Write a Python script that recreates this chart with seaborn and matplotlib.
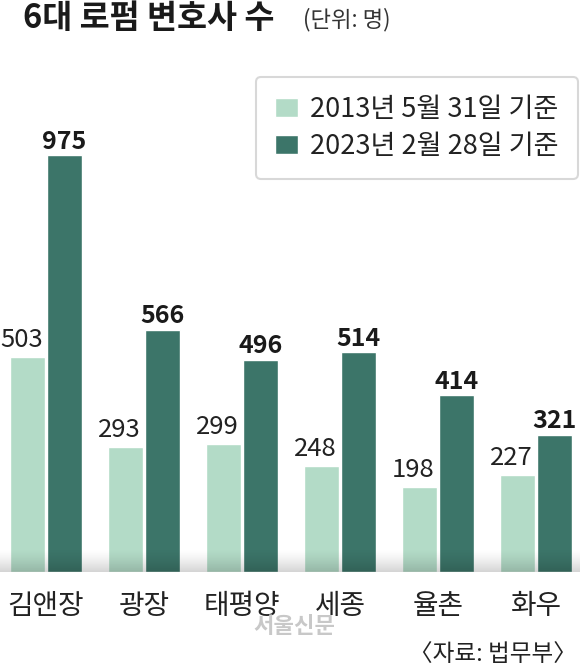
import numpy as np
import pandas as pd
import matplotlib
matplotlib.use("Agg")
import matplotlib.pyplot as plt
import seaborn as sns

firms = ["김앤장", "광장", "태평양", "세종", "율촌", "화우"]
y2013 = [503, 293, 299, 248, 198, 227]
y2023 = [975, 566, 496, 514, 414, 321]
series = ["2013년 5월 31일 기준", "2023년 2월 28일 기준"]
colors = ["#b3dbc7", "#3c7569"]

df = pd.DataFrame({
    "firm": firms * 2,
    "count": y2013 + y2023,
    "period": [series[0]] * len(firms) + [series[1]] * len(firms),
})

sns.set_style("white")
KR = ["Noto Sans CJK KR", "DejaVu Sans"]
plt.rcParams["font.family"] = KR

fig = plt.figure(figsize=(5.8, 6.67), dpi=100)
ax = fig.add_axes([0, 0.1424, 1, 0.7376])

sns.barplot(data=df, x="firm", y="count", hue="period", palette=colors,
            width=0.755, gap=0.055, order=firms, hue_order=series,
            saturation=1, ax=ax)

# 막대 위 숫자
for i, cont in enumerate(ax.containers):
    for bar in cont:
        x = bar.get_x() + bar.get_width() / 2
        h = bar.get_height()
        if i == 0:
            ax.annotate(f"{h:.0f}", (x, h), xytext=(-4.5, 3), textcoords="offset points",
                        ha="center", va="bottom", fontsize=18.5, color="#222222")
        else:
            ax.annotate(f"{h:.0f}", (x, h), xytext=(0, 1), textcoords="offset points",
                        ha="center", va="bottom", fontsize=18, fontweight="bold",
                        color="#1a1a1a")

# 바닥 그림자
xl = (-0.469, 5.449)
grad = np.zeros((64, 2, 4))
grad[..., 3] = np.linspace(0.17, 0, 64)[:, None] ** 1.3 / 0.17 ** 0.3
ax.imshow(grad, extent=(xl[0], xl[1], 0, 52), aspect="auto", origin="lower",
          zorder=3, interpolation="bilinear")

ax.set_xlim(*xl)
ax.set_ylim(0, 1150)
ax.set_xlabel("")
ax.set_ylabel("")
ax.set_yticks([])
ax.tick_params(axis="x", length=0, pad=14)
for lab in ax.get_xticklabels():
    lab.set_fontsize(20)
    lab.set_color("#222222")
sns.despine(ax=ax, left=True, bottom=True)

handles, labels = ax.get_legend_handles_labels()
ax.legend_.remove()
leg = fig.legend(handles, labels, loc="upper right", bbox_to_anchor=(0.997, 0.885),
                 fontsize=19.5, frameon=True, fancybox=True, edgecolor="#cfcfcf",
                 handlelength=0.85, handleheight=0.7, handletextpad=0.45,
                 labelspacing=0.35, borderpad=0.72, borderaxespad=0)
leg.get_frame().set_linewidth(1.5)
for t in leg.get_texts():
    t.set_color("#222222")

fig.text(0.04, 0.973, "6대 로펌 변호사 수", fontsize=23.5, fontweight="bold",
         color="#1a1a1a", va="center", ha="left")
fig.text(0.522, 0.970, "(단위: 명)", fontsize=16,
         color="#333333", va="center", ha="left")
fig.text(0.507, 0.060, "서울신문", fontsize=16, fontweight="bold",
         color="#c8c8c8", va="center", ha="center")
fig.text(0.995, 0.018, "〈자료: 법무부〉", fontsize=17,
         color="#222222", va="center", ha="right")

fig.savefig("out.png", dpi=100)
